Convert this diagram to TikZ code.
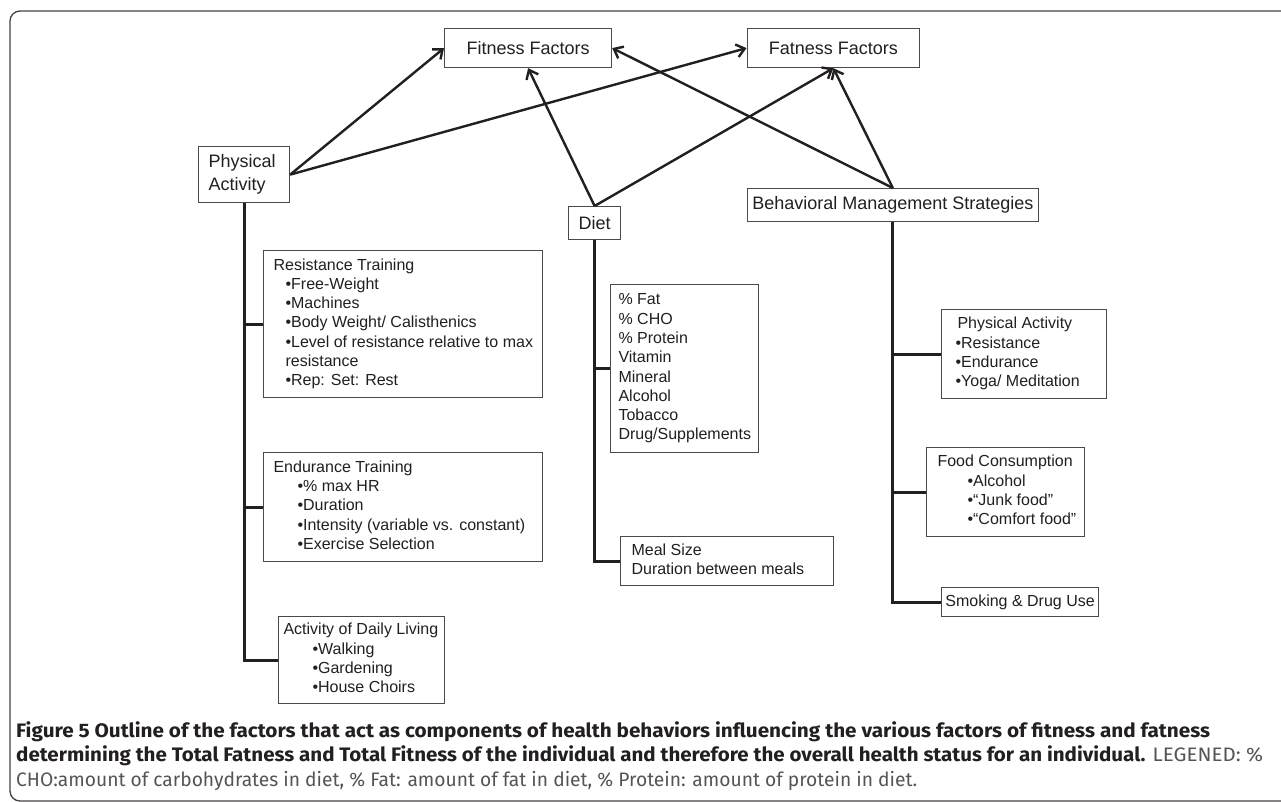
\documentclass[tikz,border=0pt]{standalone}
\usepackage{fontspec}
\setmainfont{Liberation Sans}
\newfontfamily\capfont{Fira Sans}
\usetikzlibrary{arrows.meta}
\definecolor{ink}{HTML}{231F20}
\definecolor{boxline}{HTML}{4A4A4A}
\definecolor{legend}{HTML}{555555}
\newlength\capw
\newcommand\fitline[2]{\settowidth\capw{#2}\pgfmathsetmacro\capfac{#1/\capw}\scalebox{\capfac}[1]{#2}}
\newcommand\boxlines[2]{\makebox[#1][l]{\begin{tabular}{@{}l@{}}#2\end{tabular}}}
\begin{document}
\begin{tikzpicture}[x=1pt,y=-1pt,
  every node/.style={text=ink},
  top/.style={draw=boxline, line width=1.2pt, font=\fontsize{18}{23}\selectfont, inner sep=0pt, anchor=north west},
  lst/.style={draw=boxline, line width=1.1pt, font=\fontsize{16}{19.3}\selectfont, inner ysep=0pt, anchor=north west},
  arr/.style={draw=ink, line width=2.4pt, -{Straight Barb[length=8pt,width=13pt]}},
  tree/.style={draw=ink, line width=3pt},
  capline/.style={anchor=base west, inner sep=0pt, font=\capfont\fontsize{19.5}{24}\selectfont}]
\useasboundingbox (0,0) rectangle (1281,802);
\fill[white] (0,0) rectangle (1281,802);
\draw[draw=ink!85, line width=1.3pt, rounded corners=10pt] (10,11) rectangle (1310,801);

% top level nodes
\node[top, minimum width=167pt, minimum height=39pt] (fit) at (444,28) {Fitness Factors};
\node[top, minimum width=172.5pt, minimum height=39pt] (fat) at (746.5,28) {Fatness Factors};
\node[top, minimum width=91pt, minimum height=56pt, inner xsep=10pt] (pa) at (198,146) {\boxlines{71pt}{Physical\\Activity}};
\node[top, minimum width=52pt, minimum height=33pt] (diet) at (568,206) {Diet};
\node[top, minimum width=291.5pt, minimum height=33pt] (bms) at (746.5,188) {Behavioral Management Strategies};

% physical activity boxes
\node[lst, minimum width=279pt, minimum height=147pt, inner xsep=10pt] (rt) at (263,250) {\boxlines{259pt}{Resistance Training\\
\hspace*{12pt}•Free-Weight\\
\hspace*{12pt}•Machines\\
\hspace*{12pt}•Body Weight/ Calisthenics\\
\hspace*{12pt}•Level of resistance relative to max\\
\hspace*{12pt}resistance\\
\hspace*{12pt}•Rep: Set: Rest}};
\node[lst, minimum width=279pt, minimum height=109pt, inner xsep=10pt] (et) at (263,452) {\boxlines{259pt}{Endurance Training\\
\hspace*{24pt}•\% max HR\\
\hspace*{24pt}•Duration\\
\hspace*{24pt}•Intensity (variable vs. constant)\\
\hspace*{24pt}•Exercise Selection}};
\node[lst, minimum width=166pt, minimum height=87pt, inner xsep=5pt] (adl) at (278,616) {\boxlines{156pt}{Activity of Daily Living\\
\hspace*{29pt}•Walking\\
\hspace*{29pt}•Gardening\\
\hspace*{29pt}•House Choirs}};

% diet boxes
\node[lst, minimum width=148pt, minimum height=168pt, inner xsep=8pt] (dl) at (610,284) {\boxlines{132pt}{\% Fat\\ \% CHO\\ \% Protein\\ Vitamin\\ Mineral\\ Alcohol\\ Tobacco\\ Drug/Supplements}};
\node[lst, minimum width=213pt, minimum height=49pt, inner xsep=11pt] (meal) at (620,536) {\boxlines{191pt}{Meal Size\\ Duration between meals}};

% behavioral boxes
\node[lst, minimum width=165pt, minimum height=89pt, inner xsep=14pt] (bpa) at (941,309) {\boxlines{137pt}{\hspace*{2pt}Physical Activity\\
•Resistance\\
•Endurance\\
•Yoga/ Meditation}};
\node[lst, minimum width=158pt, minimum height=89pt, inner xsep=11pt] (food) at (926,447) {\boxlines{136pt}{Food Consumption\\
\hspace*{30pt}•Alcohol\\
\hspace*{30pt}•“Junk food”\\
\hspace*{30pt}•“Comfort food”}};
\node[lst, minimum width=157pt, minimum height=29pt, inner xsep=0pt] (smk) at (941,587) {Smoking \& Drug Use};

% tree lines
\draw[tree] (pa.south) -- (pa.south |- adl.west) -- (adl.west);
\draw[tree] (pa.south |- rt.west) -- (rt.west);
\draw[tree] (pa.south |- et.west) -- (et.west);
\draw[tree] (diet.south) -- (diet.south |- meal.west) -- (meal.west);
\draw[tree] (diet.south |- dl.west) -- (dl.west);
\draw[tree] (bms.south) -- (bms.south |- smk.west) -- (smk.west);
\draw[tree] (bms.south |- bpa.west) -- (bpa.west);
\draw[tree] (bms.south |- food.west) -- (food.west);

% arrows
\draw[arr] (pa.east) -- (fit.west);
\draw[arr] (pa.east) -- (fat.west);
\draw[arr] (diet.north) -- (fit.south);
\draw[arr] (diet.north) -- (fat.south);
\draw[arr] (bms.north) -- (fit.east);
\draw[arr] (bms.north) -- (fat.south);

% caption
\node[capline] (cap1) at (16,737) {\fitline{1194}{\bfseries Figure 5 Outline of the factors that act as components of health behaviors influencing the various factors of fitness and fatness}};
\node[capline] (cap2) at (16,761) {\fitline{1247}{\textbf{determining the Total Fatness and Total Fitness of the individual and therefore the overall health status for an individual.} \textcolor{legend}{LEGENED: \%}}};
\node[capline] (cap3) at (16,786) {\fitline{901}{\textcolor{legend}{CHO:amount of carbohydrates in diet, \% Fat: amount of fat in diet, \% Protein: amount of protein in diet.}}};
\end{tikzpicture}
\end{document}
